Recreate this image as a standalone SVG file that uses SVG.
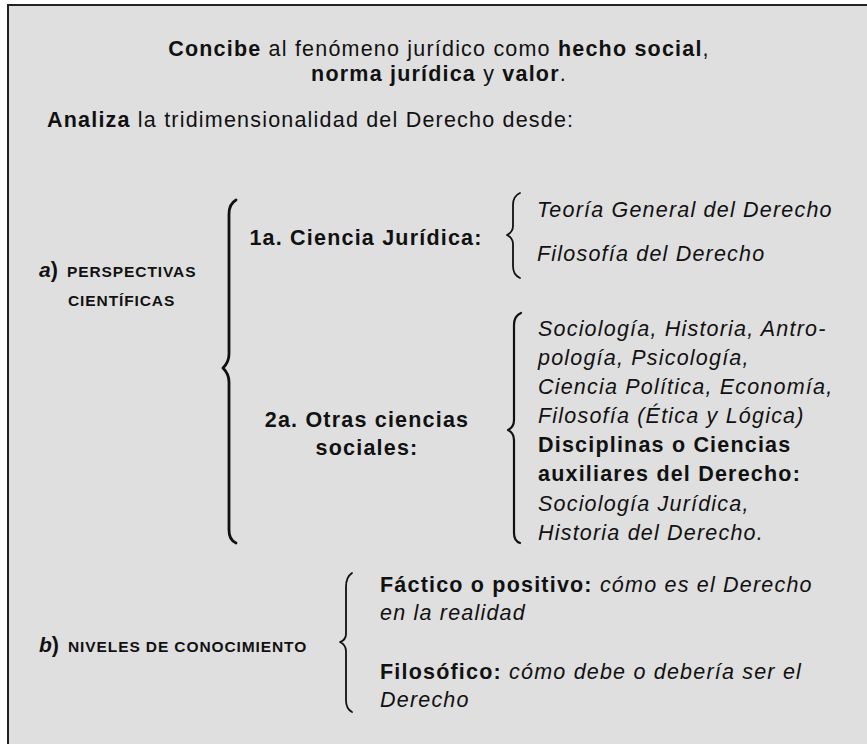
<svg xmlns="http://www.w3.org/2000/svg" width="867" height="744" viewBox="0 0 867 744">
<style>
text{font-family:"Liberation Sans",Arial,Helvetica,sans-serif;fill:#111;font-size:21.5px;letter-spacing:1.2px}
.b{font-weight:bold}
.i{font-style:italic}
.sc{font-size:15.5px;font-weight:bold;letter-spacing:0.9px}
.lab{font-size:21px;font-weight:bold;font-style:italic;letter-spacing:0}
.brace{fill:none;stroke:#111;stroke-linecap:round;stroke-linejoin:round}
</style>
<rect x="0" y="0" width="867" height="744" fill="#ffffff"/>
<rect id="frame" x="8" y="5" width="900" height="800" fill="#dfdfdf" stroke="#222" stroke-width="2"/>
<g id="title">
<text x="439" y="56" text-anchor="middle"><tspan class="b">Concibe</tspan> al fenómeno jurídico como <tspan class="b">hecho social</tspan>,</text>
<text x="439" y="81" text-anchor="middle"><tspan class="b">norma jurídica</tspan> y <tspan class="b">valor</tspan>.</text>
</g>
<g id="analiza">
<text x="47" y="127"><tspan class="b">Analiza</tspan> la tridimensionalidad del Derecho desde:</text>
</g>
<g id="perspectivas">
<text x="39" y="277"><tspan class="lab">a</tspan><tspan class="b" letter-spacing="0">)</tspan></text>
<text x="67" y="277" class="sc">PERSPECTIVAS</text>
<text x="68" y="306" class="sc">CIENTÍFICAS</text>
</g>
<g id="ciencia-juridica">
<text x="366" y="245" text-anchor="middle" class="b">1a. Ciencia Jurídica:</text>
</g>
<g id="ciencia-juridica-items">
<text x="537" y="217" class="i">Teoría General del Derecho</text>
<text x="537" y="261" class="i">Filosofía del Derecho</text>
</g>
<g id="otras-ciencias">
<text x="367" y="427" text-anchor="middle" class="b">2a. Otras ciencias</text>
<text x="367" y="455" text-anchor="middle" class="b">sociales:</text>
</g>
<g id="otras-ciencias-items">
<text x="538" y="336" class="i">Sociología, Historia, Antro-</text>
<text x="538" y="365" class="i">pología, Psicología,</text>
<text x="538" y="394" class="i">Ciencia Política, Economía,</text>
<text x="538" y="423" class="i">Filosofía (Ética y Lógica)</text>
<text x="538" y="452" class="b">Disciplinas o Ciencias</text>
<text x="538" y="481" class="b">auxiliares del Derecho:</text>
<text x="538" y="511" class="i">Sociología Jurídica,</text>
<text x="538" y="540" class="i">Historia del Derecho.</text>
</g>
<g id="niveles">
<text x="39" y="652"><tspan class="lab">b</tspan><tspan class="b" letter-spacing="0">)</tspan></text>
<text x="68" y="652" class="sc">NIVELES DE CONOCIMIENTO</text>
</g>
<g id="niveles-items">
<text x="380" y="592"><tspan class="b">Fáctico o positivo:</tspan> <tspan class="i">cómo es el Derecho</tspan></text>
<text x="380" y="620" class="i">en la realidad</text>
<text x="380" y="679"><tspan class="b">Filosófico:</tspan> <tspan class="i">cómo debe o debería ser el</tspan></text>
<text x="380" y="707" class="i">Derecho</text>
</g>
<g id="connectors">
<path class="brace" stroke-width="2.8" d="M236,200 Q229,204 229,214 L229,354 Q229,362 223,368 Q229,374 229,382 L229,530 Q229,540 236,543"/>
<path class="brace" stroke-width="1.8" d="M520,193 Q513,196 513,205 L513,226 Q513,232 507,235 Q513,238 513,244 L513,266 Q513,275 520,278"/>
<path class="brace" stroke-width="2.2" d="M521,313 Q514,316 514,325 L514,420 Q514,427 508,430 Q514,433 514,440 L514,533 Q514,541 520,543"/>
<path class="brace" stroke-width="1.8" d="M352,573 Q346,577 346,587 L346,634 Q346,640 340,642 Q346,645 346,651 L346,700 Q346,709 352,712"/>
</g>
</svg>
